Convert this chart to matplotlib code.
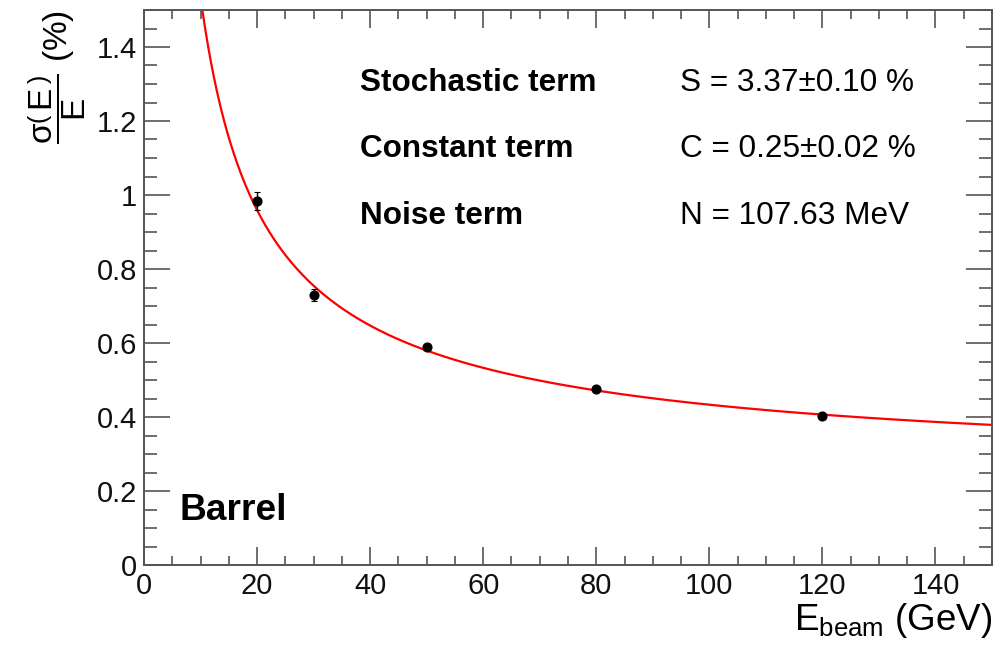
import numpy as np
import matplotlib
matplotlib.use("Agg")
import matplotlib.pyplot as plt
from matplotlib.ticker import MultipleLocator

plt.rcParams['font.family'] = ['Liberation Sans', 'DejaVu Sans']
plt.rcParams['mathtext.fontset'] = 'custom'
plt.rcParams['mathtext.rm'] = 'Liberation Sans'
plt.rcParams['mathtext.it'] = 'Liberation Sans'
plt.rcParams['mathtext.bf'] = 'Liberation Sans:bold'

# data points
energy = [20, 30, 50, 80, 120]
resolution = [0.983, 0.729, 0.589, 0.476, 0.404]
res_err = [0.024, 0.016, 0.009, 0.008, 0.005]

# fit parameters (as printed on the chart)
S_pct = 3.37
C_pct = 0.25
N_MeV = 107.63

def fit(E):
    return np.sqrt((S_pct / np.sqrt(E))**2 + (N_MeV / 10.0 / E)**2 + C_pct**2)

fig = plt.figure(figsize=(9.93, 6.47), dpi=100)
ax = fig.add_axes([144/993, (647-565)/647, 848/993, 555/647])

E_curve = np.linspace(9.5, 150, 600)
ax.plot(E_curve, fit(E_curve), color='#ff0000', lw=1.6, zorder=2)
ax.errorbar(energy, resolution, yerr=res_err, fmt='o', color='black',
            ms=6.3, elinewidth=1.0, capsize=2.5, capthick=0.8, zorder=3)

ax.set_xlim(0, 150)
ax.set_ylim(0, 1.5)
ax.xaxis.set_major_locator(MultipleLocator(20))
ax.xaxis.set_minor_locator(MultipleLocator(5))
ax.yaxis.set_major_locator(MultipleLocator(0.2))
ax.yaxis.set_minor_locator(MultipleLocator(0.05))

ax.set_xticks([0, 20, 40, 60, 80, 100, 120, 140])
ax.set_xticklabels(['0', '20', '40', '60', '80', '100', '120', '140'])
ax.set_yticks([0, 0.2, 0.4, 0.6, 0.8, 1.0, 1.2, 1.4])
ax.set_yticklabels(['0', '0.2', '0.4', '0.6', '0.8', '1', '1.2', '1.4'])

ax.tick_params(axis='both', which='both', direction='in', top=True, right=True,
               color='#555555', width=1.2, labelsize=21, labelcolor='#111111')
ax.tick_params(axis='x', which='major', length=13, pad=5)
ax.tick_params(axis='x', which='minor', length=6.5)
ax.tick_params(axis='y', which='major', length=18.5, pad=5)
ax.tick_params(axis='y', which='minor', length=9.3)

for sp in ax.spines.values():
    sp.set_color('#555555')
    sp.set_linewidth(1.4)

ax.set_xlabel(r'E$_{\rm beam}$ (GeV)', fontsize=26.5, loc='right', labelpad=1)
ax.set_ylabel(r'$\dfrac{\sigma\left(\,E\,\right)}{E}$ (%)', fontsize=24, loc='top', labelpad=6)

bold_kw = dict(fontsize=22.7, fontweight='bold', transform=ax.transAxes, va='baseline')
ax.text((360-144)/848, (565-91)/555, 'Stochastic term', **bold_kw)
ax.text((360-144)/848, (565-157)/555, 'Constant term', **bold_kw)
ax.text((360-144)/848, (565-224)/555, 'Noise term', **bold_kw)

val_kw = dict(fontsize=22.7, transform=ax.transAxes, va='baseline')
ax.text((680-144)/848, (565-91)/555, 'S = 3.37\u00b10.10 %', **val_kw)
ax.text((680-144)/848, (565-157)/555, 'C = 0.25\u00b10.02 %', **val_kw)
ax.text((680-144)/848, (565-224)/555, 'N = 107.63 MeV', **val_kw)

ax.text((179-144)/848, (565-520)/555, 'Barrel', fontsize=26.7, fontweight='bold',
        transform=ax.transAxes, va='baseline')

fig.savefig('out.png', dpi=100)
